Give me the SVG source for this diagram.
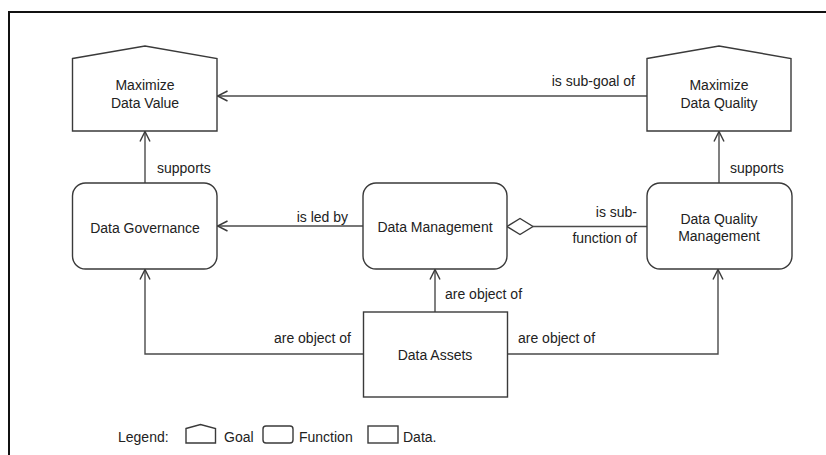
<svg xmlns="http://www.w3.org/2000/svg" width="826" height="455" viewBox="0 0 826 455">
  <style>
    .shape { fill: #ffffff; stroke: #3a3a3a; stroke-width: 1.4; }
    .link { fill: none; stroke: #4a4a4a; stroke-width: 1.4; }
    .label { font-family: "Liberation Sans", Arial, sans-serif; font-size: 14px; fill: #222222; }
    .mid { text-anchor: middle; }
    .end { text-anchor: end; }
  </style>
  <defs>
    <marker id="open-arrow" viewBox="0 0 12 12" refX="11" refY="6" markerWidth="12" markerHeight="12" markerUnits="userSpaceOnUse" orient="auto">
      <path d="M1,1 L11,6 L1,11" fill="none" stroke="#3a3a3a" stroke-width="1.4"/>
    </marker>
  </defs>

  <rect width="826" height="455" fill="#ffffff"/>

  <!-- frame -->
  <path d="M9,455 L9,12 L826,12" fill="none" stroke="#111111" stroke-width="2"/>

  <!-- connectors -->
  <g id="connectors">
    <path class="link" d="M647,96 L217.5,96" marker-end="url(#open-arrow)"/>
    <path class="link" d="M145,183 L145,131.5" marker-end="url(#open-arrow)"/>
    <path class="link" d="M719,183 L719,131.5" marker-end="url(#open-arrow)"/>
    <path class="link" d="M363,226 L217.5,226" marker-end="url(#open-arrow)"/>
    <path class="shape" d="M507,226.5 L520,218.5 L533,226.5 L520,234.5 Z"/>
    <path class="link" d="M533,226.5 L647,226.5"/>
    <path class="link" d="M435,312 L435,269.5" marker-end="url(#open-arrow)"/>
    <path class="link" d="M363,354 L145,354 L145,269.5" marker-end="url(#open-arrow)"/>
    <path class="link" d="M508,354 L718,354 L718,269.5" marker-end="url(#open-arrow)"/>

    <text class="label end" x="635" y="86">is sub-goal of</text>
    <text class="label" x="157" y="173">supports</text>
    <text class="label" x="730" y="173">supports</text>
    <text class="label end" x="348" y="222">is led by</text>
    <text class="label end" x="637" y="217">is sub-</text>
    <text class="label end" x="637" y="243">function of</text>
    <text class="label" x="445" y="299">are object of</text>
    <text class="label end" x="351" y="343">are object of</text>
    <text class="label" x="518" y="343">are object of</text>
  </g>

  <!-- goals -->
  <g id="goal-data-value">
    <path class="shape" d="M72.5,58.5 L145,46 L217,58.5 L217,131 L72.5,131 Z"/>
    <text class="label mid" x="145" y="90">Maximize</text>
    <text class="label mid" x="145" y="108">Data Value</text>
  </g>
  <g id="goal-data-quality">
    <path class="shape" d="M647,58.5 L719,46 L791,58.5 L791,131 L647,131 Z"/>
    <text class="label mid" x="719" y="90">Maximize</text>
    <text class="label mid" x="719" y="108">Data Quality</text>
  </g>

  <!-- functions -->
  <g id="fn-data-governance">
    <rect class="shape" x="72.5" y="183" width="144.5" height="86" rx="13" ry="13"/>
    <text class="label mid" x="145" y="233">Data Governance</text>
  </g>
  <g id="fn-data-management">
    <rect class="shape" x="363" y="183" width="144" height="86" rx="13" ry="13"/>
    <text class="label mid" x="435" y="232">Data Management</text>
  </g>
  <g id="fn-data-quality-management">
    <rect class="shape" x="647" y="183" width="145" height="86" rx="13" ry="13"/>
    <text class="label mid" x="719" y="224">Data Quality</text>
    <text class="label mid" x="719" y="241">Management</text>
  </g>

  <!-- data -->
  <g id="data-assets">
    <rect class="shape" x="363.5" y="312" width="144" height="85"/>
    <text class="label mid" x="435" y="360">Data Assets</text>
  </g>

  <!-- legend -->
  <g id="legend">
    <text class="label" x="118" y="442">Legend:</text>
    <path class="shape" d="M186,428.5 L200.5,424.5 L215.5,428.5 L215.5,443 L186,443 Z" stroke-width="1.2"/>
    <text class="label" x="224" y="442">Goal</text>
    <rect class="shape" x="263" y="426" width="30" height="17" rx="3" ry="3" stroke-width="1.2"/>
    <text class="label" x="299" y="442">Function</text>
    <rect class="shape" x="368" y="426" width="30" height="17" stroke-width="1.2"/>
    <text class="label" x="403" y="442">Data.</text>
  </g>
</svg>
